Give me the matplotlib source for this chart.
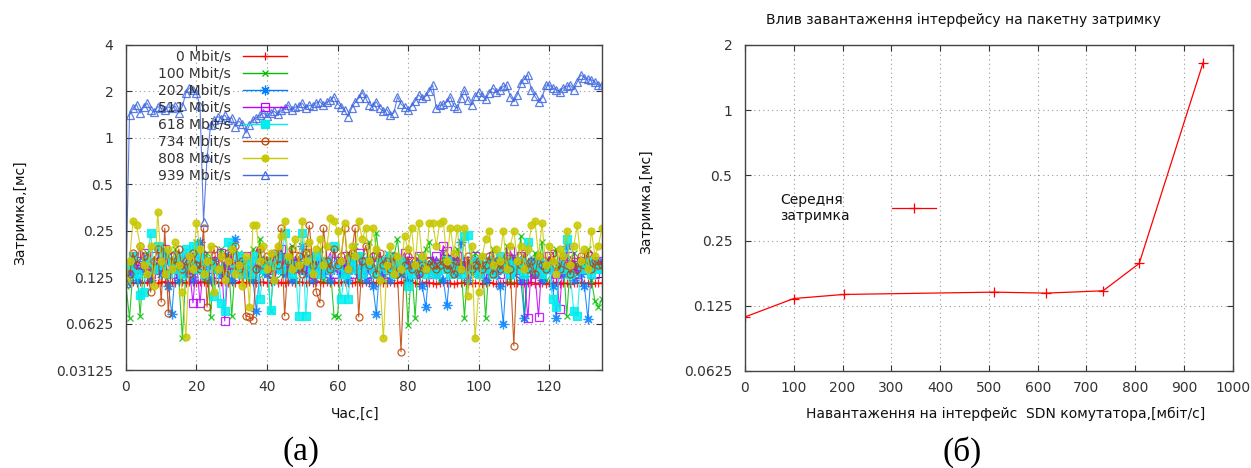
import numpy as np
import matplotlib.pyplot as plt

plt.rcParams['font.family'] = ['DejaVu Sans']

# ---- panel (a): delay vs time for each load level ----
time_s = np.arange(136)

lat_0 = [0.113, 0.115, 0.116, 0.114, 0.117, 0.115, 0.116, 0.118, 0.115, 0.114,
         0.116, 0.117, 0.115, 0.116, 0.114, 0.117, 0.116, 0.115, 0.117, 0.116,
         0.115, 0.117, 0.116, 0.114, 0.116, 0.118, 0.115, 0.116, 0.117, 0.115,
         0.116, 0.114, 0.117, 0.116, 0.115, 0.117, 0.116, 0.114, 0.116, 0.117,
         0.115, 0.116, 0.118, 0.115, 0.116, 0.114, 0.117, 0.116, 0.115, 0.117,
         0.116, 0.115, 0.117, 0.114, 0.116, 0.117, 0.115, 0.116, 0.114, 0.117,
         0.115, 0.116, 0.117, 0.115, 0.114, 0.116, 0.117, 0.115, 0.116, 0.114,
         0.116, 0.115, 0.117, 0.114, 0.115, 0.116, 0.114, 0.115, 0.117, 0.115,
         0.114, 0.116, 0.115, 0.113, 0.115, 0.116, 0.114, 0.115, 0.113, 0.115,
         0.116, 0.114, 0.115, 0.113, 0.115, 0.114, 0.116, 0.113, 0.115, 0.114,
         0.115, 0.113, 0.114, 0.116, 0.114, 0.113, 0.115, 0.114, 0.116, 0.113,
         0.115, 0.114, 0.113, 0.115, 0.114, 0.116, 0.113, 0.115, 0.114, 0.113,
         0.115, 0.114, 0.116, 0.113, 0.115, 0.114, 0.113, 0.115, 0.114, 0.116,
         0.114, 0.115, 0.113, 0.115, 0.114, 0.115]

lat_100 = [0.11, 0.068, 0.14, 0.16, 0.07, 0.15, 0.18, 0.12, 0.16, 0.14,
           0.2, 0.13, 0.17, 0.15, 0.19, 0.12, 0.05, 0.14, 0.17, 0.13,
           0.21, 0.15, 0.12, 0.18, 0.069, 0.16, 0.14, 0.19, 0.13, 0.17,
           0.07, 0.15, 0.18, 0.13, 0.16, 0.12, 0.19, 0.14, 0.22, 0.13,
           0.16, 0.075, 0.15, 0.19, 0.13, 0.17, 0.14, 0.2, 0.12, 0.16,
           0.14, 0.18, 0.13, 0.17, 0.15, 0.19, 0.12, 0.16, 0.14, 0.07,
           0.069, 0.16, 0.13, 0.18, 0.14, 0.2, 0.12, 0.17, 0.15, 0.21,
           0.13, 0.24, 0.15, 0.12, 0.18, 0.14, 0.17, 0.22, 0.13, 0.16,
           0.061, 0.15, 0.068, 0.17, 0.14, 0.19, 0.21, 0.13, 0.16, 0.12,
           0.18, 0.14, 0.17, 0.13, 0.19, 0.15, 0.068, 0.16, 0.13, 0.18,
           0.14, 0.17, 0.068, 0.15, 0.19, 0.13, 0.16, 0.14, 0.2, 0.12,
           0.17, 0.15, 0.23, 0.068, 0.16, 0.13, 0.18, 0.14, 0.21, 0.12,
           0.16, 0.14, 0.19, 0.13, 0.17, 0.07, 0.15, 0.18, 0.13, 0.16,
           0.14, 0.19, 0.12, 0.087, 0.08, 0.09]

lat_202 = [0.12, 0.13, 0.15, 0.12, 0.14, 0.16, 0.13, 0.12, 0.15, 0.14,
           0.13, 0.16, 0.11, 0.072, 0.14, 0.12, 0.15, 0.13, 0.17, 0.12,
           0.14, 0.21, 0.13, 0.15, 0.12, 0.16, 0.14, 0.13, 0.15, 0.17,
           0.12, 0.22, 0.14, 0.16, 0.13, 0.15, 0.12, 0.075, 0.14, 0.16,
           0.13, 0.15, 0.12, 0.14, 0.17, 0.13, 0.15, 0.12, 0.16, 0.14,
           0.2, 0.13, 0.15, 0.12, 0.14, 0.16, 0.13, 0.15, 0.12, 0.14,
           0.16, 0.13, 0.15, 0.12, 0.14, 0.17, 0.13, 0.15, 0.12, 0.14,
           0.11, 0.072, 0.15, 0.13, 0.16, 0.12, 0.14, 0.15, 0.13, 0.16,
           0.12, 0.14, 0.15, 0.13, 0.11, 0.08, 0.14, 0.16, 0.13, 0.15,
           0.12, 0.082, 0.14, 0.16, 0.13, 0.21, 0.15, 0.12, 0.14, 0.16,
           0.13, 0.15, 0.12, 0.14, 0.16, 0.13, 0.11, 0.062, 0.14, 0.16,
           0.13, 0.15, 0.12, 0.068, 0.14, 0.16, 0.13, 0.15, 0.12, 0.14,
           0.16, 0.11, 0.068, 0.15, 0.13, 0.2, 0.14, 0.12, 0.15, 0.13,
           0.11, 0.067, 0.14, 0.16, 0.15, 0.16]

lat_511 = [0.13, 0.15, 0.17, 0.14, 0.16, 0.18, 0.15, 0.13, 0.17, 0.14,
           0.16, 0.19, 0.15, 0.13, 0.17, 0.14, 0.16, 0.18, 0.14, 0.085,
           0.16, 0.085, 0.15, 0.17, 0.14, 0.16, 0.13, 0.18, 0.065, 0.15,
           0.17, 0.14, 0.16, 0.13, 0.17, 0.15, 0.14, 0.16, 0.18, 0.14,
           0.16, 0.13, 0.17, 0.15, 0.19, 0.14, 0.16, 0.13, 0.17, 0.15,
           0.14, 0.18, 0.16, 0.13, 0.17, 0.15, 0.14, 0.16, 0.18, 0.13,
           0.16, 0.14, 0.17, 0.15, 0.13, 0.16, 0.18, 0.14, 0.16, 0.13,
           0.15, 0.17, 0.14, 0.16, 0.13, 0.17, 0.15, 0.14, 0.16, 0.18,
           0.14, 0.16, 0.13, 0.17, 0.15, 0.14, 0.16, 0.13, 0.17, 0.15,
           0.2, 0.185, 0.16, 0.14, 0.17, 0.15, 0.13, 0.16, 0.14, 0.17,
           0.15, 0.13, 0.16, 0.14, 0.17, 0.15, 0.13, 0.16, 0.14, 0.185,
           0.16, 0.14, 0.17, 0.12, 0.068, 0.15, 0.13, 0.069, 0.16, 0.14,
           0.17, 0.15, 0.13, 0.078, 0.16, 0.14, 0.17, 0.15, 0.13, 0.16,
           0.14, 0.17, 0.15, 0.13, 0.16, 0.15]

lat_618 = [0.12, 0.15, 0.17, 0.13, 0.095, 0.1, 0.16, 0.24, 0.14, 0.2,
           0.15, 0.18, 0.13, 0.16, 0.14, 0.17, 0.13, 0.19, 0.15, 0.2,
           0.14, 0.17, 0.13, 0.16, 0.15, 0.094, 0.14, 0.085, 0.075, 0.21,
           0.2, 0.14, 0.17, 0.13, 0.16, 0.15, 0.13, 0.17, 0.09, 0.14,
           0.16, 0.076, 0.15, 0.17, 0.14, 0.24, 0.16, 0.13, 0.15, 0.07,
           0.24, 0.07, 0.16, 0.14, 0.17, 0.13, 0.15, 0.16, 0.14, 0.2,
           0.15, 0.09, 0.13, 0.09, 0.16, 0.14, 0.17, 0.13, 0.15, 0.16,
           0.14, 0.13, 0.16, 0.15, 0.14, 0.17, 0.13, 0.15, 0.16, 0.14,
           0.11, 0.13, 0.15, 0.14, 0.16, 0.13, 0.15, 0.14, 0.13, 0.15,
           0.14, 0.16, 0.13, 0.15, 0.14, 0.13, 0.23, 0.235, 0.14, 0.16,
           0.13, 0.15, 0.14, 0.16, 0.13, 0.15, 0.17, 0.14, 0.16, 0.13,
           0.15, 0.14, 0.16, 0.13, 0.21, 0.15, 0.14, 0.16, 0.13, 0.15,
           0.14, 0.09, 0.08, 0.15, 0.14, 0.22, 0.13, 0.075, 0.07, 0.15,
           0.14, 0.16, 0.13, 0.15, 0.14, 0.14]

lat_734 = [0.12, 0.13, 0.18, 0.15, 0.2, 0.17, 0.14, 0.1, 0.16, 0.19,
           0.086, 0.26, 0.073, 0.17, 0.15, 0.19, 0.14, 0.16, 0.13, 0.18,
           0.15, 0.14, 0.26, 0.08, 0.16, 0.19, 0.14, 0.17, 0.13, 0.18,
           0.15, 0.2, 0.14, 0.16, 0.07, 0.069, 0.066, 0.14, 0.19, 0.15,
           0.17, 0.13, 0.18, 0.15, 0.26, 0.07, 0.16, 0.19, 0.14, 0.17,
           0.13, 0.18, 0.27, 0.15, 0.1, 0.085, 0.26, 0.16, 0.14, 0.19,
           0.15, 0.17, 0.26, 0.14, 0.18, 0.26, 0.069, 0.16, 0.2, 0.15,
           0.17, 0.13, 0.18, 0.15, 0.16, 0.14, 0.17, 0.13, 0.041, 0.15,
           0.17, 0.14, 0.16, 0.13, 0.15, 0.14, 0.16, 0.15, 0.14, 0.15,
           0.16, 0.14, 0.15, 0.13, 0.16, 0.14, 0.15, 0.17, 0.14, 0.15,
           0.16, 0.14, 0.15, 0.17, 0.13, 0.16, 0.14, 0.15, 0.17, 0.14,
           0.045, 0.16, 0.15, 0.18, 0.14, 0.16, 0.13, 0.17, 0.15, 0.14,
           0.16, 0.18, 0.15, 0.14, 0.17, 0.15, 0.13, 0.16, 0.14, 0.17,
           0.15, 0.18, 0.14, 0.16, 0.15, 0.15]

lat_808 = [0.12, 0.16, 0.29, 0.27, 0.2, 0.15, 0.13, 0.2, 0.11, 0.33,
           0.16, 0.13, 0.19, 0.14, 0.21, 0.15, 0.1, 0.051, 0.17, 0.14,
           0.28, 0.19, 0.13, 0.16, 0.2, 0.1, 0.14, 0.17, 0.12, 0.16,
           0.19, 0.13, 0.15, 0.11, 0.17, 0.08, 0.27, 0.27, 0.16, 0.2,
           0.14, 0.18, 0.12, 0.2, 0.23, 0.29, 0.17, 0.14, 0.22, 0.15,
           0.29, 0.16, 0.21, 0.13, 0.19, 0.22, 0.15, 0.2, 0.3, 0.29,
           0.25, 0.16, 0.28, 0.14, 0.2, 0.17, 0.29, 0.22, 0.26, 0.16,
           0.26, 0.19, 0.12, 0.05, 0.15, 0.2, 0.13, 0.17, 0.14, 0.23,
           0.19, 0.26, 0.15, 0.28, 0.17, 0.14, 0.28, 0.28, 0.2, 0.28,
           0.29, 0.16, 0.26, 0.18, 0.26, 0.14, 0.26, 0.094, 0.2, 0.05,
           0.1, 0.17, 0.22, 0.25, 0.15, 0.19, 0.16, 0.25, 0.14, 0.2,
           0.25, 0.16, 0.2, 0.14, 0.19, 0.27, 0.29, 0.17, 0.28, 0.15,
           0.2, 0.16, 0.13, 0.19, 0.17, 0.25, 0.15, 0.2, 0.27, 0.16,
           0.19, 0.14, 0.25, 0.17, 0.2, 0.26]

lat_939 = [0.115, 1.40, 1.55, 1.64, 1.44, 1.58, 1.67, 1.52, 1.46, 1.59,
           1.55, 1.51, 1.58, 1.55, 1.60, 1.44, 1.60, 1.95, 2.10, 2.04,
           1.94, 1.60, 0.286, 0.75, 1.20, 1.30, 1.37, 1.33, 1.40, 1.30,
           1.35, 1.18, 1.28, 1.22, 1.07, 1.20, 1.30, 1.35, 1.40, 1.44,
           1.38, 1.45, 1.48, 1.42, 1.50, 1.55, 1.63, 1.50, 1.58, 1.60,
           1.67, 1.55, 1.62, 1.60, 1.68, 1.71, 1.62, 1.70, 1.75, 1.84,
           1.65, 1.58, 1.50, 1.37, 1.55, 1.70, 1.80, 1.96, 1.80, 1.63,
           1.60, 1.71, 1.55, 1.48, 1.52, 1.40, 1.45, 1.84, 1.65, 1.58,
           1.51, 1.60, 1.72, 1.89, 1.80, 1.85, 2.00, 2.19, 1.55, 1.62,
           1.65, 1.70, 1.84, 1.60, 1.55, 1.80, 2.04, 1.75, 1.63, 1.85,
           1.99, 1.85, 1.78, 1.95, 2.10, 1.98, 2.05, 2.15, 2.19, 1.84,
           1.72, 1.90, 2.25, 2.40, 2.55, 2.04, 1.85, 1.71, 1.80, 2.19,
           2.20, 2.10, 2.05, 1.99, 2.10, 2.15, 2.19, 2.05, 2.30, 2.55,
           2.45, 2.40, 2.37, 2.30, 2.19, 2.20]

series_labels = ['0 Mbit/s', '100 Mbit/s', '202 Mbit/s', '511 Mbit/s',
                 '618 Mbit/s', '734 Mbit/s', '808 Mbit/s', '939 Mbit/s']
series_values = [lat_0, lat_100, lat_202, lat_511, lat_618, lat_734, lat_808, lat_939]

# ---- panel (б): mean delay vs load ----
load_mbit = [0, 100, 202, 511, 618, 734, 808, 939]
mean_delay = [0.111, 0.135, 0.141, 0.1445, 0.143, 0.1466, 0.196, 1.657]

# gnuplot-like styles
styles = [
    dict(color='#ff0000', marker='+', ms=6, mfc='#ff0000'),
    dict(color='#00c000', marker='x', ms=5, mfc='#00c000'),
    dict(color='#0080ff', marker=(8, 2, 0), ms=7, mfc='#0080ff'),
    dict(color='#c000ff', marker='s', ms=6, mfc='none'),
    dict(color='#00eeee', marker='s', ms=6, mfc='#00eeee'),
    dict(color='#c04000', marker='o', ms=5, mfc='none'),
    dict(color='#c8c800', marker='o', ms=5, mfc='#c8c800'),
    dict(color='#4169e1', marker='^', ms=6, mfc='none'),
]

fig = plt.figure(figsize=(12.51, 4.68), dpi=100)
ax1 = fig.add_axes([0.1007, 0.2094, 0.3805, 0.6950])
ax2 = fig.add_axes([0.5955, 0.2073, 0.3900, 0.6966])

grid_kw = dict(color='#999999', linestyle=(0, (1, 3)), linewidth=0.8)
text_col = '#333333'

for vals, st in zip(series_values, styles):
    ax1.plot(time_s, vals, lw=0.8, mew=0.9, alpha=0.85, **st)

ax1.set_yscale('log', base=2)
ax1.set_ylim(0.03125, 4)
ax1.set_xlim(0, 135)
yt1 = [0.03125, 0.0625, 0.125, 0.25, 0.5, 1, 2, 4]
ax1.set_yticks(yt1)
ax1.set_yticklabels([str(v) for v in yt1])
ax1.set_xticks([0, 20, 40, 60, 80, 100, 120])
ax1.minorticks_off()
ax1.grid(True, **grid_kw)

# legend drawn gnuplot-style: right aligned labels, sample line after text
for i, (lab, st) in enumerate(zip(series_labels, styles)):
    yy = 0.965 - i * 0.0523
    ax1.text(0.22, yy, lab, transform=ax1.transAxes, ha='right', va='center',
             fontsize=10, color=text_col)
    ax1.plot([0.246, 0.338], [yy, yy], transform=ax1.transAxes, color=st['color'],
             lw=1.0, clip_on=False)
    ax1.plot([0.292], [yy], transform=ax1.transAxes, ls='none', clip_on=False,
             marker=st['marker'], ms=st['ms'], mfc=st['mfc'], mec=st['color'], mew=0.9)

ax2.plot(load_mbit, mean_delay, color='#ff0000', marker='+', ms=7, mew=0.9, lw=0.9)
ax2.set_yscale('log', base=2)
ax2.set_ylim(0.0625, 2)
ax2.set_xlim(0, 1000)
yt2 = [0.0625, 0.125, 0.25, 0.5, 1, 2]
ax2.set_yticks(yt2)
ax2.set_yticklabels([str(v) for v in yt2])
ax2.set_xticks(np.arange(0, 1001, 100))
ax2.minorticks_off()
ax2.grid(True, **grid_kw)

ax2.text(0.072, 0.5, 'Середня\nзатримка', transform=ax2.transAxes, ha='left',
         va='center', fontsize=10, color='#111111', linespacing=1.25)
ax2.plot([0.301, 0.391], [0.5, 0.5], transform=ax2.transAxes, color='#ff0000', lw=0.9)
ax2.plot([0.346], [0.5], transform=ax2.transAxes, color='#ff0000', marker='+', ms=7, mew=0.9)

for ax in (ax1, ax2):
    ax.tick_params(direction='in', top=True, right=True, length=4, width=0.8,
                   labelsize=10, labelcolor=text_col, color='#333333')
    ax.tick_params(axis='x', pad=7)
    ax.tick_params(axis='y', pad=9)
    for sp in ax.spines.values():
        sp.set_color('#444444')
        sp.set_linewidth(1.0)

# axis titles
fig.text(20 / 1251, 1 - 213 / 468, 'Затримка,[мс]', rotation=90, ha='center', va='center',
         fontsize=10, color='#111111')
fig.text(355 / 1251, 1 - 414 / 468, 'Час,[с]', ha='center', va='center',
         fontsize=10, color='#111111')
fig.text(646 / 1251, 1 - 202 / 468, 'Затримка,[мс]', rotation=90, ha='center', va='center',
         fontsize=10, color='#111111')
fig.text(1006 / 1251, 1 - 414 / 468, 'Навантаження на інтерфейс  SDN комутатора,[мбіт/с]',
         ha='center', va='center', fontsize=10, color='#111111')
fig.text(963 / 1251, 1 - 20 / 468, 'Влив завантаження інтерфейсу на пакетну затримку',
         ha='center', va='center', fontsize=10, color='#111111')

# panel captions
fig.text(301 / 1251, 1 - 452 / 468, '(а)', ha='center', va='center',
         fontsize=24, family='Liberation Serif')
fig.text(962 / 1251, 1 - 452 / 468, '(б)', ha='center', va='center',
         fontsize=24, family='Liberation Serif')

fig.savefig('out.png', dpi=100, facecolor='white')
